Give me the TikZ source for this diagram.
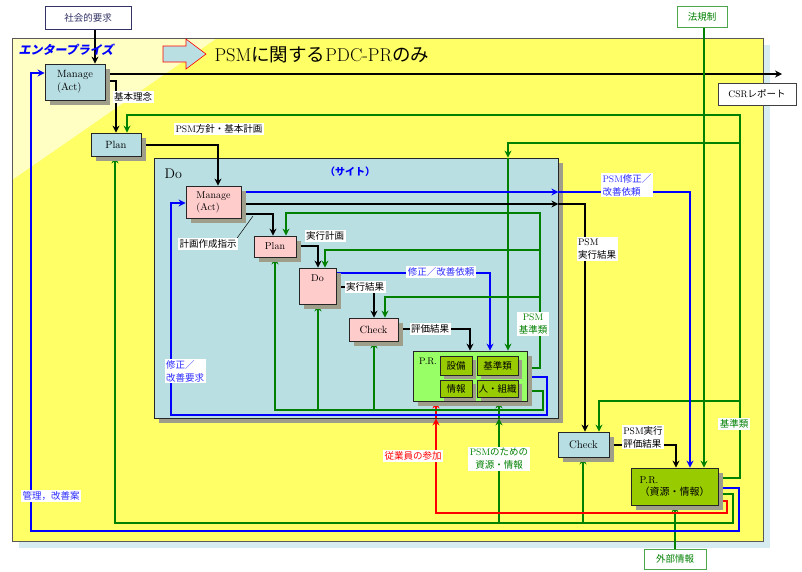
\documentclass[tikz,border=0pt]{standalone}
\usepackage{fontspec}
\newfontfamily\jp{Noto Sans CJK JP}
\newfontfamily\jpsl[FakeSlant=0.2]{Noto Sans CJK JP}
\usetikzlibrary{shadows,arrows.meta}

\definecolor{entyel}{HTML}{FFFF66}
\definecolor{entlt}{HTML}{FFFFC4}
\definecolor{sitebl}{HTML}{BADFE3}
\definecolor{boxbl}{HTML}{B7DEE3}
\definecolor{pinkbx}{HTML}{FFCCCC}
\definecolor{prlt}{HTML}{99FF66}
\definecolor{olv}{HTML}{99CC00}
\definecolor{grn}{HTML}{008000}
\definecolor{blu}{HTML}{0000FF}
\definecolor{lblblu}{HTML}{2B2BFF}
\definecolor{shd}{HTML}{9E9E8A}
\definecolor{shdbl}{HTML}{D6ECF0}
\definecolor{navy}{HTML}{333366}

\pgfdeclarelayer{bg}
\pgfdeclarelayer{ln}
\pgfsetlayers{bg,ln,main}

\newcommand\ltn[1]{{\rmfamily #1}}

\tikzset{
  shad/.style={drop shadow={shadow xshift=5pt,shadow yshift=-5pt,fill=shd,opacity=1}},
  pdbox/.style={draw=black!85,line width=0.8pt,inner sep=0pt,align=left,
    font=\fontsize{10}{12}\selectfont},
  bluebox/.style={pdbox,fill=boxbl,shad},
  pinkbox/.style={pdbox,fill=pinkbx,shad},
  subbox/.style={pdbox,fill=olv,font=\jp\fontsize{9.5}{11}\selectfont,
    drop shadow={shadow xshift=4pt,shadow yshift=-4pt,fill=shd,opacity=1}},
  extbox/.style={draw,fill=white,line width=0.9pt,inner sep=0pt,
    font=\jp\fontsize{9.5}{11}\selectfont},
  lbl/.style={fill=white,inner sep=1.5pt,align=left,
    font=\jp\fontsize{9.5}{13}\selectfont},
  blk/.style={line width=2.2pt,draw=black},
  gl/.style={line width=2.2pt,draw=grn},
  bl/.style={line width=1.8pt,draw=blu},
  rd/.style={line width=2.4pt,draw=red}
}

\begin{document}
\begin{tikzpicture}[x=1pt,y=-1pt,>={Stealth[length=7pt,width=7pt]}]
\useasboundingbox (0,0) rectangle (802,571);

% enterprise and site
\begin{pgfonlayer}{bg}
  \fill[shdbl] (19,45) rectangle (770,548);
  \fill[entyel] (12,38) rectangle (763,541);
  \fill[entlt] (12,38) -- (217,38) -- (12,180) -- cycle;
  \draw[black!65,line width=0.8pt] (12,38) rectangle (763,541);
  \node[pdbox,fill=sitebl,shad,minimum width=404pt,minimum height=260pt] (site) at (356,288) {};
\end{pgfonlayer}

\filldraw[fill=sitebl,draw=red,line width=0.6pt] (163,46) -- (186,46) -- (186,39)
  -- (206,54) -- (186,69) -- (186,62) -- (163,62) -- cycle;
\node[anchor=west,font=\jp\fontsize{18.5}{20}\selectfont] (title) at (211,55)
  {\ltn{PSM}に関する\ltn{PDC-PR}のみ};
\node[anchor=west,text=blu,font=\jpsl\bfseries\fontsize{12}{14}\selectfont] (ent) at (15,50) {エンタープライズ};
\node[text=blu,font=\jp\bfseries\fontsize{10}{12}\selectfont] (saito) at (350,172) {（サイト）};
\node[anchor=west,font=\fontsize{14}{16}\selectfont] (doTitle) at (161,174) {Do};

% boxes outside
\node[extbox,draw=navy,text=navy,minimum width=86pt,minimum height=23pt] (shakai) at (88,17.5) {社会的要求};
\node[extbox,draw=black!75,minimum width=78pt,minimum height=22pt] (csr) at (757,94) {\ltn{CSR}レポート};
\node[extbox,draw=grn!70,text=grn,minimum width=50pt,minimum height=21pt] (houki) at (702,16.5) {法規制};
\node[extbox,draw=grn!70,text=grn,minimum width=62pt,minimum height=20pt] (gaibu) at (675,559) {外部情報};

% enterprise boxes
\node[bluebox,minimum width=60pt,minimum height=36pt,font=\fontsize{10.5}{13}\selectfont] (mgE) at (75,82) {Manage\\(Act)};
\node[bluebox,minimum width=50pt,minimum height=23pt,font=\fontsize{10.5}{13}\selectfont] (planE) at (116,144.5) {Plan};
\node[bluebox,minimum width=51pt,minimum height=25pt,font=\fontsize{11}{13}\selectfont] (chkE) at (583.5,444.5) {Check};
\node[pdbox,fill=olv,shad,minimum width=87pt,minimum height=37pt] (prE) at (674.5,486.5) {P.R.\\{\jp （資源・情報）}};

% site boxes
\node[pinkbox,minimum width=55pt,minimum height=32pt] (mgS) at (213.5,202) {Manage\\(Act)};
\node[pinkbox,minimum width=42pt,minimum height=21pt] (planS) at (275,246.5) {Plan};
\node[pinkbox,minimum width=37pt,minimum height=36pt,
  label={[anchor=north,yshift=-4pt,font=\fontsize{10}{12}\selectfont]north:Do}] (doS) at (317.5,286) {};
\node[pinkbox,minimum width=49pt,minimum height=23pt,font=\fontsize{10.5}{12}\selectfont] (chkS) at (373.5,329.5) {Check};
\node[pdbox,fill=prlt,shad,minimum width=114pt,minimum height=50pt,
  label={[anchor=north west,xshift=3pt,yshift=-4pt,font=\fontsize{9.5}{11}\selectfont]north west:P.R.}] (prS) at (470,376) {};
\node[subbox,minimum width=32pt,minimum height=19pt] (setsubi) at (456,365.5) {設備};
\node[subbox,minimum width=41pt,minimum height=19pt] (kijun) at (497.5,365.5) {基準類};
\node[subbox,minimum width=32pt,minimum height=17pt] (jouhou) at (456,388.5) {情報};
\node[subbox,minimum width=41pt,minimum height=17pt] (soshiki) at (497.5,388.5) {人・組織};

% connectors
\begin{pgfonlayer}{ln}
  \coordinate (csrEnd) at (782,74);
  \draw[blk,->] (shakai.south -| 95,0) -- (mgE.north -| 95,0);
  \draw[blk,->] (mgE.east |- 0,74) -- (csrEnd);
  \draw[blk,->] (mgE.east |- 0,81) -| (planE.north);
  \draw[blk,->] (planE.east |- 0,145) -| (mgS.north -| 218,0);
  % green from P.R. up to plans
  \draw[gl,->] (prE.east |- 0,478) -- (740,478) -- (740,115) -| (planE.north -| 127,0);
  \draw[gl,->] (740,143) -| (site.north -| 508,0);
  \draw[gl,->] (site.north -| 508,0) -- (prS.north -| 508,0);
  \draw[gl,->] (740,401) -| (chkE.north -| 599,0);
  \draw[gl,->] (houki.south -| 704,0) -- (prE.north -| 704,0);
  \draw[gl,->] (gaibu.north) -- (prE.south -| gaibu.north);
  % site results out
  \draw[bl,->] (mgS.east |- 0,192) -- (site.east |- 0,192);
  \draw[bl,->] (site.east |- 0,192) -| (prE.north -| 690,0);
  \draw[blk,->] (mgS.east |- 0,204) -- (site.east |- 0,204);
  \draw[blk,->] (site.east |- 0,204) -| (chkE.north -| 585,0);
  \draw[blk,->] (chkE.east |- 0,445) -| (prE.north -| 676,0);
  % loops from enterprise P.R.
  \draw[bl,->] (prE.east |- 0,488) -- (739,488) -- (739,531) -- (31,531) -- (31,73) -- (mgE.west |- 0,73);
  \draw[gl,->] (prE.east |- 0,494) -- (733,494) -- (733,523) -- (115,523) -- (planE.south -| 115,0);
  \draw[gl,->] (499,523) -- (site.south -| 499,0);
  \draw[gl,->] (site.south -| 499,0) -- (prS.south -| 499,0);
  \draw[gl,->] (583,523) -- (chkE.south -| 583,0);
  \draw[rd,->] (prE.east |- 0,501) -- (727,501) -- (727,513) -| (site.south -| 436,0);
  \draw[rd,->] (site.south -| 436,0) -- (prS.south -| 436,0);
  % inside the site
  \draw[blk,->] (mgS.east |- 0,214) -| (planS.north -| 273,0);
  \draw[blk,->] (planS.east |- 0,246) -| (doS.north -| 318,0);
  \draw[blk,->] (doS.east |- 0,287) -| (chkS.north -| 374,0);
  \draw[blk,->] (chkS.east |- 0,329) -| (prS.north -| 470,0);
  \draw[bl,->] (doS.east |- 0,273) -| (prS.north -| 490,0);
  \draw[gl,->] (prS.east |- 0,368) -- (540,368) -- (540,213) -| (planS.north -| 286,0);
  \draw[gl,->] (540,250) -| (doS.north -| 325,0);
  \draw[gl,->] (540,297) -| (chkS.north -| 385,0);
  \draw[gl,->] (prS.east |- 0,391) -- (543,391) -- (543,410) -- (275,410) -- (planS.south -| 275,0);
  \draw[gl,->] (318,410) -- (doS.south -| 318,0);
  \draw[gl,->] (374,410) -- (chkS.south -| 374,0);
  \draw[bl,->] (prS.east |- 0,377) -- (547,377) -- (547,415) -- (171,415) -- (171,203) -- (mgS.west |- 0,203);
\end{pgfonlayer}

% labels
\node[lbl] (lKihon) at (133,97) {基本理念};
\node[lbl] (lHoushin) at (219,129) {\ltn{PSM}方針・基本計画};
\node[lbl] (lSakusei) at (208,244) {計画作成指示};
\draw[line width=0.5pt] ([xshift=-1pt]lSakusei.north east) -- (253,216);
\node[lbl] (lJikkei) at (325,236) {実行計画};
\node[lbl] (lJikka) at (365,287) {実行結果};
\node[lbl,text=lblblu] (lShusei) at (441,272) {修正／改善依頼};
\node[lbl] (lHyouka) at (430,329) {評価結果};
\node[lbl,text=grn,align=center] (lKijunS) at (533,324) {\ltn{PSM}\\基準類};
\node[lbl,text=lblblu] (lYoukyu) at (185,371) {修正／\\改善要求};
\node[lbl,text=lblblu] (lIrai) at (627,185) {\ltn{PSM}修正／\\改善依頼};
\node[lbl] (lJikkoE) at (597,249) {\ltn{PSM}\\実行結果};
\node[lbl] (lHyoukaE) at (643,437) {\ltn{PSM}実行\\評価結果};
\node[lbl,text=grn] (lKijunE) at (734,424) {基準類};
\node[lbl,text=red] (lSanka) at (413,456) {従業員の参加};
\node[lbl,text=grn,align=center] (lShigen) at (499,459) {\ltn{PSM}のための\\資源・情報};
\node[lbl,text=lblblu] (lKanri) at (51,496) {管理，改善案};
\end{tikzpicture}
\end{document}
